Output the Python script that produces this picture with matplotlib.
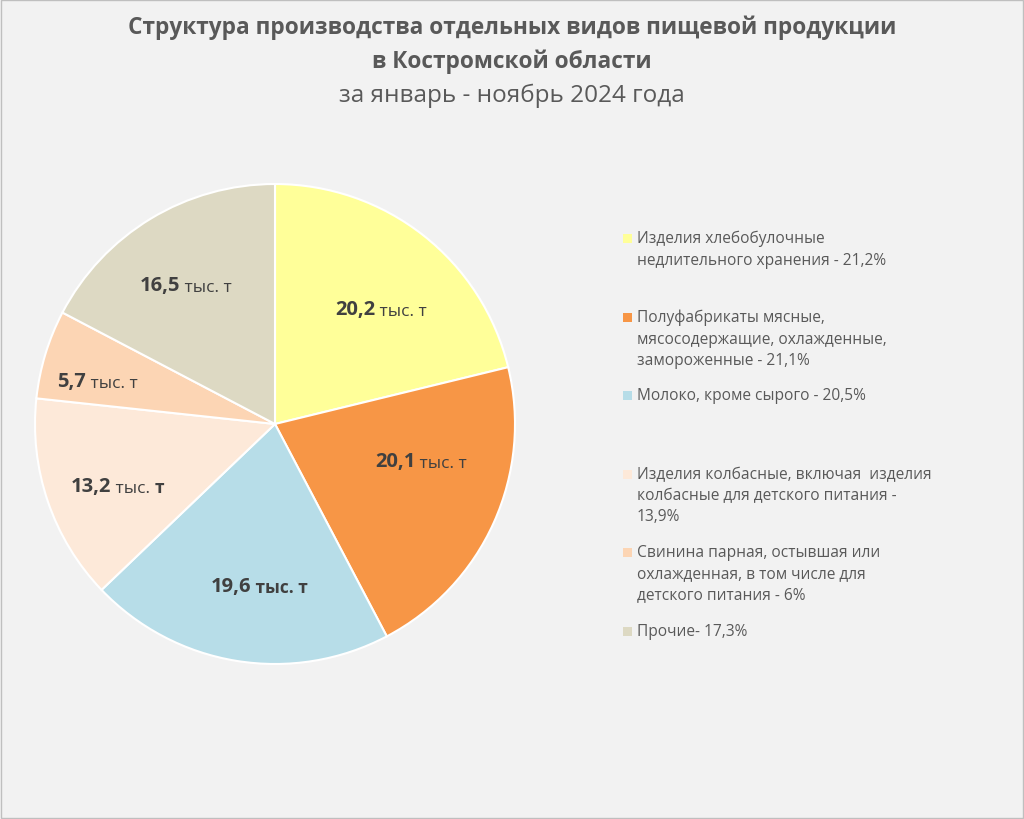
import matplotlib
matplotlib.use('Agg')
import matplotlib.pyplot as plt
from matplotlib.patches import Rectangle

# данные
categories = [
    'Изделия хлебобулочные\nнедлительного хранения - 21,2%',
    'Полуфабрикаты мясные,\nмясосодержащие, охлажденные,\nзамороженные - 21,1%',
    'Молоко, кроме сырого - 20,5%',
    'Изделия колбасные, включая  изделия\nколбасные для детского питания -\n13,9%',
    'Свинина парная, остывшая или\nохлажденная, в том числе для\nдетского питания - 6%',
    'Прочие- 17,3%',
]
values = [20.2, 20.1, 19.6, 13.2, 5.7, 16.5]
value_labels = ['20,2', '20,1', '19,6', '13,2', '5,7', '16,5']
colors = ['#ffff99', '#f79646', '#b7dde8', '#fde9d9', '#fcd5b4', '#ddd9c3']

# положение подписей (в единицах радиуса) и легенды (px)
label_xy = [(0.446, 0.479), (0.613, -0.154), (-0.071, -0.675),
            (-0.654, -0.258), (-0.758, 0.179), (-0.367, 0.579)]
unit_bold = [False, False, True, False, False, False]
legend_y = [239, 318, 396, 475, 553, 632]

W, H = 1024, 820
plt.rcParams['font.family'] = ['Open Sans', 'DejaVu Sans']
txt = '#595959'
dark = '#404040'

fig = plt.figure(figsize=(W / 100, H / 100), dpi=100)
fig.patch.set_facecolor('#f2f2f2')
fig.patches.append(Rectangle((0.001, 0.001), 0.998, 0.998, transform=fig.transFigure,
                             fill=False, edgecolor='#bfbfbf', lw=1))

# заголовок
fig.text(0.5, 1 - 28 / H, 'Структура производства отдельных видов пищевой продукции',
         ha='center', va='center', fontsize=16.3, fontweight='bold', color=txt)
fig.text(0.5, 1 - 62 / H, 'в Костромской области',
         ha='center', va='center', fontsize=16.3, fontweight='bold', color=txt)
fig.text(0.5, 1 - 96 / H, 'за январь - ноябрь 2024 года',
         ha='center', va='center', fontsize=17.5, color=txt)

# круговая диаграмма
cx, cy, r = 275, 425, 240
ax = fig.add_axes([(cx - r) / W, 1 - (cy + r) / H, 2 * r / W, 2 * r / H])
wedges, _ = ax.pie(values, colors=colors, startangle=90, counterclock=False,
                   wedgeprops=dict(edgecolor='white', linewidth=1.5))
ax.set_aspect('auto')
ax.set_xlim(-1, 1)
ax.set_ylim(-1, 1)

for lab, (x, y), ub in zip(value_labels, label_xy, unit_bold):
    t = ax.annotate(lab, xy=(x, y), xytext=(-5, 0), textcoords='offset points',
                    ha='right', va='center', fontsize=14.5, fontweight='bold', color=dark)
    if lab == '13,2':
        u = ax.annotate(' тыс. ', xy=(1, 0), xycoords=t, ha='left', va='bottom',
                        fontsize=12.5, color=dark)
        ax.annotate('т', xy=(1, 0), xycoords=u, ha='left', va='bottom',
                    fontsize=12.5, fontweight='bold', color=dark)
    else:
        ax.annotate(' тыс. т', xy=(1, 0), xycoords=t, ha='left', va='bottom',
                    fontsize=12.5, fontweight='bold' if ub else 'normal', color=dark)

# легенда
for col, lab, ly in zip(colors, categories, legend_y):
    fig.patches.append(Rectangle((623 / W, 1 - (ly + 5) / H), 9 / W, 9 / H,
                                 transform=fig.transFigure, facecolor=col, edgecolor='none'))
    fig.text(637 / W, 1 - (ly - 8) / H, lab, ha='left', va='top', fontsize=11.2,
             color=txt, linespacing=1.43)

fig.savefig('out.png', dpi=100, facecolor=fig.get_facecolor())
plt.close(fig)
